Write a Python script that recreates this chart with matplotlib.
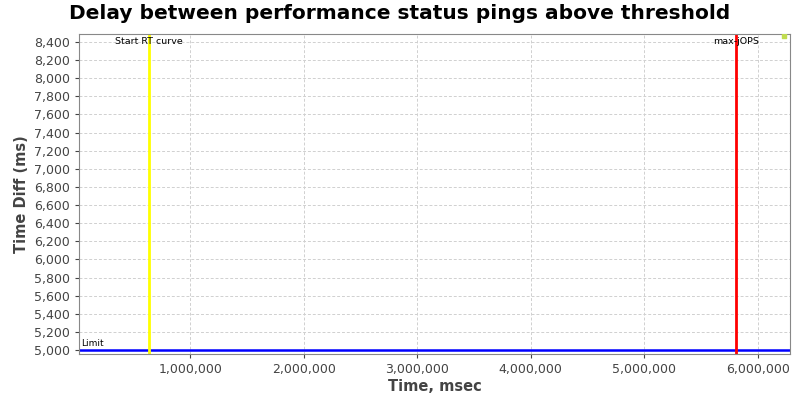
import matplotlib
matplotlib.use('Agg')
import matplotlib.pyplot as plt
from matplotlib.ticker import FuncFormatter, MultipleLocator

# vertical markers (x, label, colour)
marker_x = [638000, 5806000]
marker_labels = ['Start RT curve', 'max-jOPS']
marker_colors = ['#ffff00', '#ff0000']

# threshold line
limit_value = 5000

# data series (only one point above threshold)
pts_x = [6229000]
pts_y = [8470]

fig = plt.figure(figsize=(8, 4), dpi=100)
ax = fig.add_axes([0.099, 0.115, 0.888, 0.80])

ax.set_xlim(21000, 6282000)
ax.set_ylim(4956, 8488)

ax.grid(True, color='#d0d0d0', linestyle=(0, (3, 2)), linewidth=0.7)
ax.set_axisbelow(True)

ax.axhline(limit_value, color='#0000ff', linewidth=1.8)
ax.text(40000, limit_value + 20, 'Limit', fontsize=6.5, va='bottom', ha='left')

for xv, lab, col in zip(marker_x, marker_labels, marker_colors):
    ax.axvline(xv, color=col, linewidth=2)
    ax.text(xv, 8405, lab, fontsize=6.8, ha='center', va='center')

ax.scatter(pts_x, pts_y, marker='s', s=6, color='#c0dc50', zorder=3)

ax.yaxis.set_major_locator(MultipleLocator(200))
ax.xaxis.set_major_locator(MultipleLocator(1000000))
fmt = FuncFormatter(lambda v, p: '{:,.0f}'.format(v))
ax.xaxis.set_major_formatter(fmt)
ax.yaxis.set_major_formatter(fmt)
ax.tick_params(labelsize=9, colors='#444444', length=3)

for s in ax.spines.values():
    s.set_color('#888888')

ax.set_xlabel('Time, msec', fontsize=10.5, fontweight='bold', color='#444444', labelpad=2)
ax.set_ylabel('Time Diff (ms)', fontsize=10.5, fontweight='bold', color='#444444', labelpad=4)
fig.suptitle('Delay between performance status pings above threshold',
             fontsize=14.5, fontweight='bold', x=0.5, y=0.99)

fig.savefig('out.png', dpi=100)
